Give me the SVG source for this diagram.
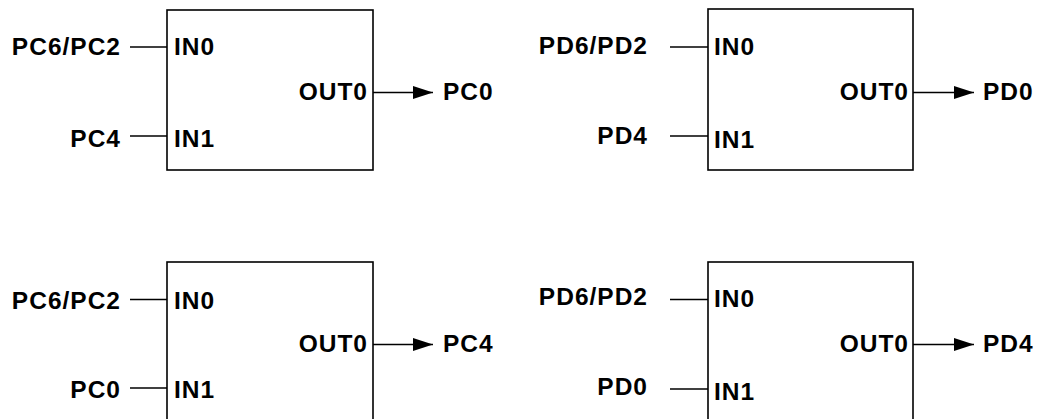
<svg xmlns="http://www.w3.org/2000/svg" width="1038" height="419" viewBox="0 0 1038 419">
  <defs>
    <style>
      .box { fill: #ffffff; stroke: #000000; stroke-width: 1.6; }
      .wire { stroke: #000000; stroke-width: 1.4; fill: none; }
      .lbl { font-family: "Liberation Sans", Arial, sans-serif; font-weight: bold; font-size: 24.5px; letter-spacing: 1px; fill: #000000; }
      .end { text-anchor: end; }
    </style>
    <marker id="arrow" viewBox="0 0 20 13" refX="20" refY="6.5" markerWidth="20" markerHeight="13" markerUnits="userSpaceOnUse" orient="auto">
      <path d="M0,0 L20,6.5 L0,13 Z" fill="#000000"/>
    </marker>
  </defs>
  <rect width="1038" height="419" fill="#ffffff"/>

  <!-- Port C mux, output PC0 -->
  <g id="mux-pc0">
    <rect class="box" x="167" y="10" width="206" height="160"/>
    <text class="lbl end" x="121" y="55">PC6/PC2</text>
    <text class="lbl end" x="121" y="147">PC4</text>
    <text class="lbl" x="174" y="55">IN0</text>
    <text class="lbl" x="174" y="147">IN1</text>
    <text class="lbl end" x="368" y="100">OUT0</text>
    <text class="lbl" x="443" y="100">PC0</text>
  </g>

  <!-- Port D mux, output PD0 -->
  <g id="mux-pd0">
    <rect class="box" x="708" y="9" width="205" height="161"/>
    <text class="lbl end" x="648" y="54">PD6/PD2</text>
    <text class="lbl end" x="648" y="144">PD4</text>
    <text class="lbl" x="714" y="55">IN0</text>
    <text class="lbl" x="714" y="148">IN1</text>
    <text class="lbl end" x="909" y="100">OUT0</text>
    <text class="lbl" x="983" y="100">PD0</text>
  </g>

  <!-- Port C mux, output PC4 -->
  <g id="mux-pc4">
    <rect class="box" x="167" y="262" width="206" height="170"/>
    <text class="lbl end" x="121" y="309">PC6/PC2</text>
    <text class="lbl end" x="121" y="398">PC0</text>
    <text class="lbl" x="174" y="309">IN0</text>
    <text class="lbl" x="174" y="398">IN1</text>
    <text class="lbl end" x="368" y="352">OUT0</text>
    <text class="lbl" x="443" y="352">PC4</text>
  </g>

  <!-- Port D mux, output PD4 -->
  <g id="mux-pd4">
    <rect class="box" x="708" y="262" width="205" height="170"/>
    <text class="lbl end" x="648" y="305">PD6/PD2</text>
    <text class="lbl end" x="648" y="395">PD0</text>
    <text class="lbl" x="714" y="307">IN0</text>
    <text class="lbl" x="714" y="400">IN1</text>
    <text class="lbl end" x="909" y="352">OUT0</text>
    <text class="lbl" x="983" y="352">PD4</text>
  </g>

  <g id="connectors">
    <line class="wire" x1="130" y1="47" x2="167" y2="47"/>
    <line class="wire" x1="130" y1="136" x2="167" y2="136"/>
    <line class="wire" x1="373" y1="92.5" x2="433" y2="92.5" marker-end="url(#arrow)"/>

    <line class="wire" x1="670" y1="47" x2="708" y2="47"/>
    <line class="wire" x1="670" y1="136" x2="708" y2="136"/>
    <line class="wire" x1="913" y1="92.5" x2="974" y2="92.5" marker-end="url(#arrow)"/>

    <line class="wire" x1="130" y1="299.5" x2="167" y2="299.5"/>
    <line class="wire" x1="130" y1="388" x2="167" y2="388"/>
    <line class="wire" x1="373" y1="344.5" x2="433" y2="344.5" marker-end="url(#arrow)"/>

    <line class="wire" x1="670" y1="299.5" x2="708" y2="299.5"/>
    <line class="wire" x1="670" y1="389" x2="708" y2="389"/>
    <line class="wire" x1="913" y1="344.5" x2="974" y2="344.5" marker-end="url(#arrow)"/>
  </g>
</svg>
